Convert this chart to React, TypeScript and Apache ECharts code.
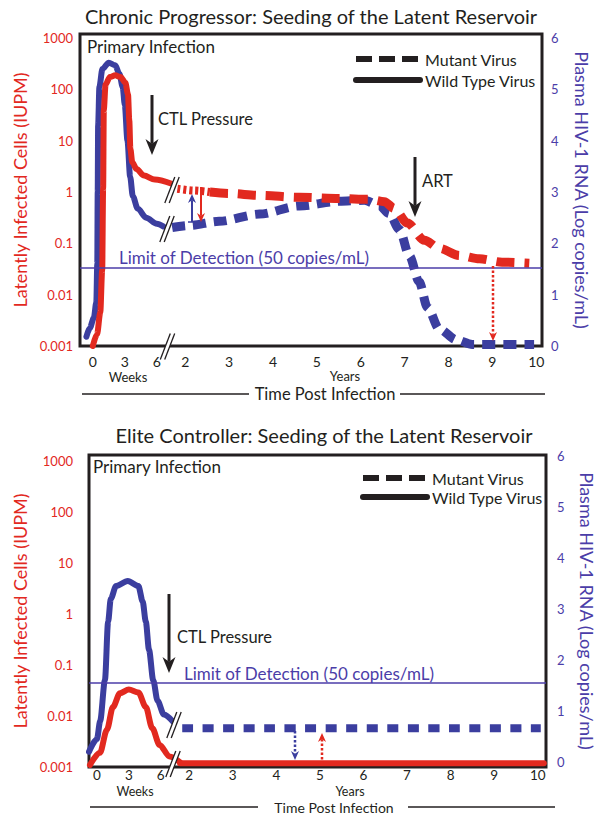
import React, { useEffect, useRef } from 'react';
import * as echarts from 'echarts';

const FONT = 'Lato, "Open Sans", sans-serif';
const RED = '#E2291F';
const BLUE = '#3B3E9F';
const LOD_BLUE = '#4B3DA8';
const INK = '#231F20';

const titles = [
  'Chronic Progressor: Seeding of the Latent Reservoir',
  'Elite Controller: Seeding of the Latent Reservoir',
];
const leftAxisName = 'Latently Infected Cells (IUPM)';
const rightAxisName = 'Plasma HIV-1 RNA (Log copies/mL)';
const legendNames = ['Mutant Virus', 'Wild Type Virus'];
const weekTicks = [0, 3, 6];
const yearTicks = [2, 3, 4, 5, 6, 7, 8, 9, 10];
const iupmTicks = ['0.001', '0.01', '0.1', '1', '10', '100', '1000'];
const rnaTicks = [0, 1, 2, 3, 4, 5, 6];
const lodText = 'Limit of Detection (50 copies/mL)';

// Chronic progressor (x: weeks or years, red: IUPM, blue: log copies/mL)
const cpRedPrimary: [number, number][] = [
  [0, 0.001], [0.4, 0.0017], [0.7, 0.0045], [0.88, 0.03], [0.97, 1.2], [1.03, 40],
  [1.2, 125], [1.6, 175], [2.1, 188], [2.6, 175], [3.05, 135], [3.3, 80], [3.42, 25],
  [3.52, 7], [3.7, 3.8], [4.1, 2.8], [4.8, 2.1], [5.8, 1.75], [7.4, 1.45],
];
const cpBluePrimary: [number, number][] = [
  [-0.6, 0.18], [-0.28, 0.35], [0.1, 0.55], [0.33, 0.85], [0.42, 1.6], [0.46, 3.0],
  [0.5, 4.3], [0.62, 5.05], [0.9, 5.4], [1.5, 5.52], [2.1, 5.47], [2.5, 5.3], [2.8, 5.05],
  [3.0, 4.7], [3.25, 4.0], [3.5, 3.3], [3.75, 2.92], [4.2, 2.68], [5.0, 2.5], [6.0, 2.38],
  [6.6, 2.33],
];
const cpRedSeedingEarly: [number, number][] = [[1.82, 1.16], [2.2, 1.07], [2.56, 1.0]];
const cpRedSeeding: [number, number][] = [
  [2.56, 1.0], [3.0, 0.94], [3.69, 0.86], [4.6, 0.79], [5.51, 0.75], [6.19, 0.72],
  [6.54, 0.65], [6.76, 0.48], [7.06, 0.25], [7.45, 0.115], [7.79, 0.08], [8.25, 0.058],
  [8.7, 0.05], [9.22, 0.043], [9.84, 0.041],
];
const cpBlueSeeding: [number, number][] = [
  [1.7, 2.31], [2.09, 2.35], [2.77, 2.43], [3.69, 2.57], [4.6, 2.73], [5.51, 2.82],
  [6.08, 2.84], [6.42, 2.74], [6.65, 2.58], [6.88, 2.27], [7.11, 1.75], [7.33, 1.25],
  [7.52, 0.75], [7.79, 0.33], [8.18, 0.12], [8.54, 0.03], [9.95, 0.03],
];
const cpLod = 1.53;

// Elite controller
const ecRedPrimary: [number, number][] = [
  [-0.66, 0.0011], [0.28, 0.0019], [0.94, 0.0054], [1.5, 0.015], [2.16, 0.028],
  [3.0, 0.033], [3.9, 0.029], [4.6, 0.015], [5.2, 0.0058], [5.9, 0.0027], [6.84, 0.0016],
  [7.8, 0.00125],
];
const ecBluePrimary: [number, number][] = [
  [-0.75, 0.2], [0, 0.45], [0.3, 0.8], [0.75, 1.6], [1.05, 2.75], [1.3, 3.2], [1.8, 3.45],
  [2.9, 3.55], [3.9, 3.45], [4.3, 3.15], [4.6, 2.75], [4.9, 2.2], [5.3, 1.6], [5.7, 1.2],
  [6.3, 0.93], [7.2, 0.78],
];
const ecRedChronic: [number, number][] = [[1.79, 0.00118], [10.14, 0.00118]];
const ecBlueChronic: [number, number][] = [[1.84, 0.66], [10.07, 0.66]];
const ecLod = 1.56;

const toLog = (pts: [number, number][]) => pts.map(([x, v]) => [x, Math.log10(v)]);
const isInt = (v: number) => Math.abs(v - Math.round(v)) < 1e-6;
const fmtLog = (v: number) => {
  const r = Math.round(v);
  return isInt(v) && r >= -3 && r <= 3 ? iupmTicks[r + 3] : '';
};
const fmtRna = (v: number) => (isInt(v) && rnaTicks.includes(Math.round(v)) ? String(Math.round(v)) : '');
const fmtWeeks = (v: number) => (isInt(v) && weekTicks.includes(Math.round(v)) ? String(Math.round(v)) : '');
const fmtYears = (v: number) => (isInt(v) && yearTicks.includes(Math.round(v)) ? String(Math.round(v)) : '');

function xAxis(gridIndex: number, min: number, max: number, interval: number, fmt: (v: number) => string, margin: number, size: number) {
  return {
    gridIndex, type: 'value', position: 'bottom', min, max, interval,
    axisLine: { show: false }, axisTick: { show: false }, splitLine: { show: false },
    axisLabel: { formatter: fmt, color: INK, fontSize: size, fontFamily: FONT, margin },
  };
}
function yAxis(gridIndex: number, side: 'left' | 'right', min: number, max: number, interval: number, margin: number, nameGap: number) {
  const left = side === 'left';
  return {
    gridIndex, type: 'value', position: side, min, max, interval,
    axisLine: { show: false }, axisTick: { show: false }, splitLine: { show: false },
    axisLabel: { formatter: left ? fmtLog : fmtRna, color: left ? RED : LOD_BLUE, fontSize: 13, fontFamily: FONT, margin },
    name: left ? leftAxisName : rightAxisName,
    nameLocation: 'middle', nameGap, nameRotate: left ? 90 : -90,
    nameTextStyle: { color: left ? RED : LOD_BLUE, fontSize: 18, fontFamily: FONT },
  };
}
function curve(name: string, data: number[][], xi: number, yi: number, color: string, width: number, type: any, extra: any = {}) {
  return {
    type: 'line', name, data, xAxisIndex: xi, yAxisIndex: yi, symbol: 'none', silent: true,
    smooth: 0.3, smoothMonotone: 'x',
    lineStyle: { color, width, type, cap: type === 'solid' ? 'round' : 'butt', join: 'round' },
    ...extra,
  };
}
function lodMark(value: number) {
  return {
    markLine: {
      silent: true, symbol: 'none', animation: false, label: { show: false },
      lineStyle: { color: LOD_BLUE, width: 1.5, type: 'solid' },
      data: [{ yAxis: value }],
    },
  };
}
function text(x: number, y: number, s: string, size: number, color = INK, align = 'left') {
  return {
    type: 'text', x, y, z: 80,
    style: { text: s, fill: color, fontSize: size, fontFamily: FONT, align, verticalAlign: 'middle', textAlign: align, textVerticalAlign: 'middle' },
  };
}
function hline(x1: number, x2: number, y: number) {
  return { type: 'line', z: 80, shape: { x1, y1: y, x2, y2: y }, style: { stroke: INK, lineWidth: 1.5 } };
}
function arrow(x: number, yFrom: number, yTo: number, color: string, lw: number, hw: number, hl: number, dash?: number[]) {
  const d = yTo > yFrom ? 1 : -1;
  return [
    { type: 'line', z: 80, shape: { x1: x, y1: yFrom, x2: x, y2: yTo - d * hl * 0.7 }, style: { stroke: color, lineWidth: lw, lineDash: dash } },
    {
      type: 'polygon', z: 81,
      shape: { points: [[x - hw / 2, yTo - d * hl], [x, yTo - d * hl * 0.7], [x + hw / 2, yTo - d * hl], [x, yTo]] },
      style: { fill: color },
    },
  ];
}
function breakMark(cx: number, cy: number, h = 13) {
  const dx = 5;
  const g = 2.2;
  const a1 = [cx - g - dx, cy + h], b1 = [cx - g + dx, cy - h];
  const a2 = [cx + g - dx, cy + h], b2 = [cx + g + dx, cy - h];
  return [
    { type: 'polygon', z: 85, shape: { points: [a1, b1, b2, a2] }, style: { fill: '#fff' } },
    { type: 'line', z: 86, shape: { x1: a1[0], y1: a1[1], x2: b1[0], y2: b1[1] }, style: { stroke: INK, lineWidth: 1.3 } },
    { type: 'line', z: 86, shape: { x1: a2[0], y1: a2[1], x2: b2[0], y2: b2[1] }, style: { stroke: INK, lineWidth: 1.3 } },
  ];
}

function buildOption() {
  const legendBase = {
    orient: 'vertical', itemWidth: 64, itemHeight: 14, padding: 0, selectedMode: false,
    itemStyle: { opacity: 0, borderWidth: 0 },
    lineStyle: { width: 6 },
    data: legendNames, textStyle: { color: INK, fontSize: 16, fontFamily: FONT },
  };
  return {
    animation: false,
    backgroundColor: '#fff',
    title: [
      { text: titles[0], left: 311, top: 6, textAlign: 'center', padding: 0, textStyle: { color: INK, fontSize: 20, fontWeight: 'normal', fontFamily: FONT } },
      { text: titles[1], left: 324, top: 425, textAlign: 'center', padding: 0, textStyle: { color: INK, fontSize: 20, fontWeight: 'normal', fontFamily: FONT } },
    ],
    legend: [
      { ...legendBase, left: 353, top: 51, itemGap: 5 },
      { ...legendBase, left: 360, top: 470, itemGap: 3 },
    ],
    grid: [
      { left: 80, right: 62, top: 34, bottom: 469, show: true, borderColor: INK, borderWidth: 3, backgroundColor: 'transparent' },
      { left: 89, right: 56, top: 455, bottom: 48, show: true, borderColor: INK, borderWidth: 3, backgroundColor: 'transparent' },
    ],
    xAxis: [
      xAxis(0, -1.2, 42.11, 0.6, fmtWeeks, 8, 14),
      xAxis(0, -0.4, 10.13, 0.2, fmtYears, 8, 14),
      xAxis(1, -0.75, 42.28, 0.75, fmtWeeks, 1, 13.5),
      xAxis(1, -0.3, 10.19, 0.1, fmtYears, 1, 13.5),
    ],
    yAxis: [
      yAxis(0, 'left', -3, 3.08, 1, 7, 45),
      yAxis(0, 'right', 0, 6.08, 1, 9, 31),
      yAxis(1, 'left', -3, 3.12, 1, 16, 54),
      yAxis(1, 'right', -0.1, 6.02, 0.1, 11, 32),
    ],
    series: [
      { type: 'line', name: legendNames[0], data: [], xAxisIndex: 0, yAxisIndex: 0, symbol: 'none', itemStyle: { color: INK }, lineStyle: { color: INK, width: 6, type: [16, 7] } },
      { type: 'line', name: legendNames[1], data: [], xAxisIndex: 0, yAxisIndex: 0, symbol: 'none', itemStyle: { color: INK }, lineStyle: { color: INK, width: 5, cap: 'round' } },
      // Chronic progressor
      curve('cp-blue-primary', cpBluePrimary, 0, 1, BLUE, 6, 'solid'),
      curve('cp-blue-seeding', cpBlueSeeding, 1, 1, BLUE, 9, [13, 8], lodMark(cpLod)),
      curve('cp-red-primary', toLog(cpRedPrimary), 0, 0, RED, 6, 'solid'),
      curve('cp-red-seeding-early', toLog(cpRedSeedingEarly), 1, 0, RED, 8, [3, 3]),
      curve('cp-red-seeding', toLog(cpRedSeeding), 1, 0, RED, 9, [18, 10]),
      // Elite controller
      curve('ec-blue-primary', ecBluePrimary, 2, 3, BLUE, 6, 'solid'),
      curve('ec-blue-chronic', ecBlueChronic, 3, 3, BLUE, 8, [11, 9.5], lodMark(ecLod)),
      curve('ec-red-primary', toLog(ecRedPrimary), 2, 2, RED, 6, 'solid'),
      curve('ec-red-chronic', toLog(ecRedChronic), 3, 2, RED, 6, 'solid'),
    ],
    graphic: [
      // chart 1 annotations
      text(87, 46, 'Primary Infection', 17),
      ...arrow(152, 95, 155, INK, 3, 13, 16),
      text(158, 119, 'CTL Pressure', 16.5),
      ...arrow(415, 157, 217, INK, 3, 13, 16),
      text(422, 181, 'ART', 16.5),
      text(119, 257, lodText, 17, LOD_BLUE),
      ...arrow(192, 222, 194, BLUE, 2, 8, 9),
      { type: 'line', z: 80, shape: { x1: 188, y1: 222, x2: 196, y2: 222 }, style: { stroke: BLUE, lineWidth: 1.5 } },
      ...arrow(201, 187, 222, RED, 2, 8, 9),
      ...arrow(493, 266, 341, RED, 2.5, 8, 9, [2.5, 2]),
      ...breakMark(172, 190),
      ...breakMark(167, 229),
      ...breakMark(167.5, 346.5),
      text(128, 377, 'Weeks', 13, INK, 'center'),
      text(345, 376, 'Years', 13, INK, 'center'),
      hline(82, 249, 394),
      text(325, 394, 'Time Post Infection', 16.5, INK, 'center'),
      hline(400, 545, 394),
      // chart 2 annotations
      text(93, 466, 'Primary Infection', 17),
      ...arrow(169, 594, 673, INK, 3, 13, 16),
      text(177, 637, 'CTL Pressure', 16.5),
      text(184, 673, lodText, 17, LOD_BLUE),
      ...arrow(295, 731, 760, BLUE, 2.5, 8, 9, [2.5, 2]),
      ...arrow(322, 764, 733, RED, 2.5, 8, 9, [2.5, 2]),
      ...breakMark(174, 725),
      ...breakMark(173, 764),
      text(135, 791.5, 'Weeks', 12.5, INK, 'center'),
      text(350, 791.5, 'Years', 12.5, INK, 'center'),
      hline(90, 258, 807),
      text(334, 807, 'Time Post Infection', 14, INK, 'center'),
      hline(408, 555, 807),
    ],
  };
}

export default function App() {
  const ref = useRef<HTMLDivElement>(null);
  useEffect(() => {
    if (!ref.current) return;
    const chart = echarts.init(ref.current, null, { renderer: 'svg' });
    chart.setOption(buildOption() as any);
    return () => chart.dispose();
  }, []);
  return (
    <div
      ref={ref}
      style={{ position: 'absolute', left: 0, top: 0, width: 604, height: 815, background: '#fff' }}
    />
  );
}
